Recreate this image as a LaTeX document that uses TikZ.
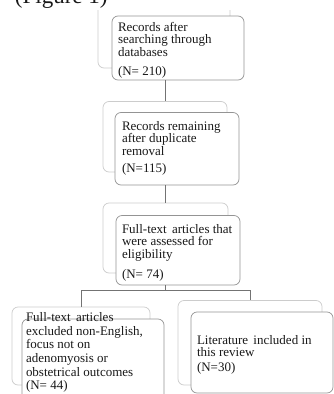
\documentclass[tikz,border=0pt]{standalone}
\usepackage{fontspec}
\setmainfont{Liberation Serif}
\usetikzlibrary{calc,fit}
\tikzset{
  backbox/.style={draw=black!20, line width=0.7pt, rounded corners=6pt, fill=white, inner sep=0pt},
  frontbox/.style={draw=black!42, line width=0.7pt, rounded corners=6pt, fill=white, inner sep=0pt},
  conn/.style={draw=black!55, line width=0.7pt},
  lbl/.style={anchor=base west, inner sep=0pt, outer sep=0pt, text=black!90},
}
\newcommand{\fsz}[1]{\fontsize{13}{#1}\selectfont}
\newcommand{\figfont}{\fontsize{23}{23}\selectfont}
\begin{document}
\begin{tikzpicture}[x=1pt,y=-1pt]
\useasboundingbox (0,0) rectangle (334,394);
\clip (0,0) rectangle (334,394);

% box 1 (back box partly hidden at the top)
\begin{scope}
\clip (0,10) rectangle (334,394);
\node[backbox, fit={(98,-6) (230,68)}] (b1) {};
\end{scope}
\node[frontbox, fit={(112,16) (244,80)}] (f1) {};
\node[lbl, font=\fsz{12}] (t1) at (118,31) {\begin{tabular}[t]{@{}l@{}}Records after\\searching through\\databases\\[7pt](N= 210)\end{tabular}};

% figure caption (mostly cut off at the top edge)
\node[inner sep=0pt, outer sep=0pt, anchor=south west, text=black!90, font=\figfont] (fig) at (15,8.5) {(Figure 1)};

% box 2
\node[backbox, fit={(103,101.5) (227,172)}] (b2) {};
\node[frontbox, fit={(115,112.5) (239,185)}] (f2) {};
\node[lbl, font=\fsz{12.5}] (t2) at (122,130) {\begin{tabular}[t]{@{}l@{}}Records remaining\\after duplicate\\removal\\[4pt](N=115)\end{tabular}};

% box 3
\node[backbox, fit={(103,203) (228,273)}] (b3) {};
\node[frontbox, fit={(116,215.5) (240,285)}] (f3) {};
\node[lbl, font=\fsz{12}] (t3) at (122,233) {\begin{tabular}[t]{@{}l@{}}Full-text\hspace{2pt} articles that\\were assessed for\\eligibility\\[7.5pt](N= 74)\end{tabular}};

% box 4
\node[backbox, fit={(12,307) (150,385)}] (b4) {};
\node[frontbox, fit={(22,319) (164,402)}] (f4) {};
\node[lbl, font=\fsz{13.6}] (t4) at (26,321.7) {\begin{tabular}[t]{@{}l@{}}Full-text\hspace{2pt} articles\\excluded non-English,\\focus not on\\adenomyosis or\\obstetrical outcomes\\(N= 44)\end{tabular}};

% box 5
\node[backbox, fit={(178,300.5) (322,385)}] (b5) {};
\node[frontbox, fit={(191,312) (333,393)}] (f5) {};
\node[lbl, font=\fsz{12}] (t5) at (197,344) {\begin{tabular}[t]{@{}l@{}}Literature\hspace{2pt} included in\\this review\\[2.5pt](N=30)\end{tabular}};

% connectors
\draw[conn] (b2.north |- f1.south) -- (b2.north);
\draw[conn] (b3.north |- f2.south) -- (b3.north);
\coordinate (j) at ($(b3.north |- f3.south)+(0,5)$);
\draw[conn] (b3.north |- f3.south) -- (j);
\draw[conn] (j) -| (b4.north);
\draw[conn] (j) -| (b5.north);
\end{tikzpicture}
\end{document}
